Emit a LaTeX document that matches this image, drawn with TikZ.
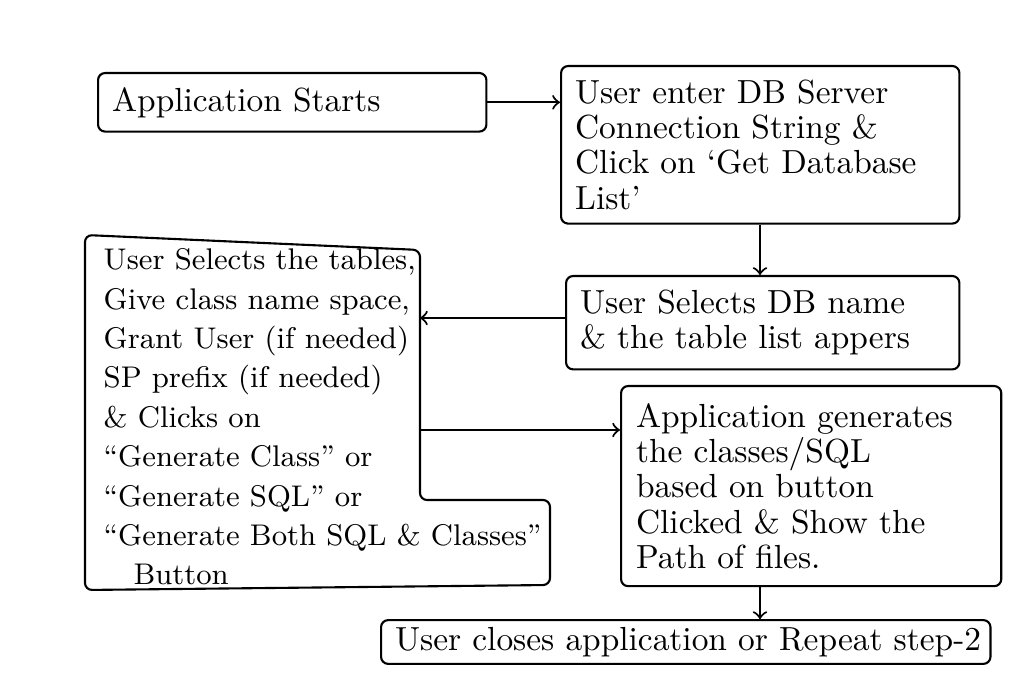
\documentclass[tikz,border=0pt]{standalone}
\usepackage{tikz}
\usetikzlibrary{positioning}
\tikzset{box/.style={draw, semithick, rounded corners=2pt, align=left, inner sep=4pt},
  txt/.style={align=left, inner sep=0pt},
  flow/.style={->, semithick}}
\begin{document}
\begin{tikzpicture}[x=0.01cm,y=-0.01cm, font=\fontsize{9.5}{10}\selectfont]
\useasboundingbox (0,0) rectangle (1024,680);
% boxes
\node[box, minimum width=3.8cm, minimum height=0.58cm, anchor=north west, text width=3.6cm] (start) at (97,72) {Application Starts};
\node[box, minimum width=3.9cm, minimum height=1.25cm, anchor=north west, text width=3.7cm] (conn) at (560,65) {User enter DB Server\\ Connection String \&\\ Click on `Get Database\\ List'};
\node[box, minimum width=3.85cm, minimum height=0.8cm, anchor=north west, text width=3.65cm] (dbname) at (565,275) {User Selects DB name\\ \& the table list appers};
\node[box, minimum width=3.8cm, minimum height=2cm, anchor=north west, text width=3.5cm] (gen) at (620,385) {Application generates\\ the classes/SQL\\ based on button\\ Clicked \& Show the\\ Path of files.};
\node[box, minimum height=0.4cm, inner sep=2pt, text width=5.95cm, anchor=west] (close) at (380,642) {\hspace{2pt}User closes application or Repeat step-2};
% left box (irregular)
\draw[semithick, rounded corners=2pt] (85,235) -- (420,250) -- (420,500) -- (550,500) -- (550,585) -- (85,590) -- cycle;
\coordinate (selR) at (420,318);
\coordinate (selO) at (420,430);
\node[txt, anchor=north west, font=\fontsize{8.5}{11.2}\selectfont] (select) at (103,248) {User Selects the tables,\\ Give class name space,\\ Grant User (if needed)\\ SP prefix (if needed)\\ \& Clicks on\\ ``Generate Class'' or\\ ``Generate SQL'' or\\ ``Generate Both SQL \& Classes''\\ \quad Button};
% connectors
\draw[flow] (start.east) -- (conn.west |- start.east);
\draw[flow] (conn.south -| 760,0) -- (dbname.north -| 760,0);
\draw[flow] (dbname.west |- selR) -- (selR);
\draw[flow] (selO) -- (gen.west |- selO);
\draw[flow] (gen.south -| 760,0) -- (close.north -| 760,0);
\end{tikzpicture}
\end{document}
